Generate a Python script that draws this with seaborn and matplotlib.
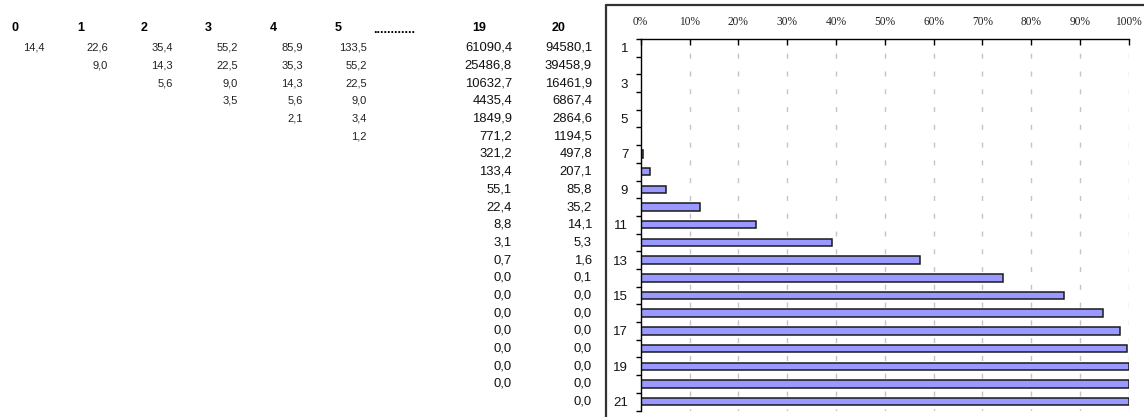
import matplotlib
matplotlib.use("Agg")
import matplotlib.pyplot as plt
import matplotlib.transforms as mtransforms
from matplotlib.lines import Line2D
from matplotlib.ticker import FixedLocator
import pandas as pd
import seaborn as sns

# ---- chart data -------------------------------------------------------
categories = [str(i) for i in range(1, 22)]
shares = [0.0, 0.0, 0.0, 0.0, 0.0, 0.0, 0.5, 1.9, 5.2, 12.1, 23.6, 39.3,
          57.2, 74.2, 86.8, 94.7, 98.3, 99.6, 100.0, 100.0, 100.0]
x_ticks = [0, 10, 20, 30, 40, 50, 60, 70, 80, 90, 100]
x_tick_labels = [f"{t}%" for t in x_ticks]
y_tick_labels = [c if int(c) % 2 == 1 else "" for c in categories]

# ---- table data -------------------------------------------------------
col_headers = ["0", "1", "2", "3", "4", "5", "19", "20"]
col_0 = [14.4]
col_1 = [22.6, 9.0]
col_2 = [35.4, 14.3, 5.6]
col_3 = [55.2, 22.5, 9.0, 3.5]
col_4 = [85.9, 35.3, 14.3, 5.6, 2.1]
col_5 = [133.5, 55.2, 22.5, 9.0, 3.4, 1.2]
col_19 = [61090.4, 25486.8, 10632.7, 4435.4, 1849.9, 771.2, 321.2, 133.4,
          55.1, 22.4, 8.8, 3.1, 0.7, 0.0, 0.0, 0.0, 0.0, 0.0, 0.0, 0.0]
col_20 = [94580.1, 39458.9, 16461.9, 6867.4, 2864.6, 1194.5, 497.8, 207.1,
          85.8, 35.2, 14.1, 5.3, 1.6, 0.1, 0.0, 0.0, 0.0, 0.0, 0.0, 0.0, 0.0]


def fmt(v):
    return f"{v:.1f}".replace(".", ",")


W, H = 1144, 417
sns.set_theme(style="white")
plt.rcParams["font.family"] = ["Liberation Sans", "DejaVu Sans"]

fig = plt.figure(figsize=(W / 100, H / 100), dpi=100)
fig.patch.set_facecolor("white")

# axes box in pixel units
ax_left, ax_right, ax_top, ax_bottom = 640.7, 1128.7, 39.0, 410.5
ax = fig.add_axes([ax_left / W, 1 - ax_bottom / H,
                   (ax_right - ax_left) / W, (ax_bottom - ax_top) / H])

df = pd.DataFrame({"cat": categories, "share": shares})
sns.barplot(data=df, x="share", y="cat", order=categories, orient="h",
            color="#9999FF", saturation=1, width=0.42,
            edgecolor="#1a1a1a", linewidth=1.1, ax=ax)

ax.set_xlim(0, 100)
ax.set_ylim(len(categories) - 0.5, -0.5)
ax.set_xlabel("")
ax.set_ylabel("")

# x axis on top, serif percent labels
ax.xaxis.tick_top()
ax.set_xticks(x_ticks)
ax.set_xticklabels(x_tick_labels, family="Liberation Serif", fontsize=8.3,
                   color="#222222")
ax.tick_params(axis="x", which="major", direction="in", length=4,
               width=1, color="black", pad=8, top=True, bottom=False)

# y axis: labels on odd categories, tick marks between categories
ax.set_yticks(range(len(categories)))
ax.set_yticklabels(y_tick_labels, fontsize=9.5, color="#111111")
ax.tick_params(axis="y", which="major", length=0, pad=9)
ax.yaxis.set_minor_locator(FixedLocator([i - 0.5 for i in range(len(categories) + 1)]))
ax.tick_params(axis="y", which="minor", direction="out", length=3.5,
               width=1, color="black", left=True)

# dashed vertical gridlines
for t in x_ticks[1:]:
    ax.axvline(t, color="#c4c4c4", lw=1.0, linestyle=(2, (3.6, 9.2)), zorder=0)

for side in ["right", "bottom"]:
    ax.spines[side].set_visible(False)
for side in ["left", "top"]:
    ax.spines[side].set_color("black")
    ax.spines[side].set_linewidth(1.0)

# outer frame around the chart area
fx, fy = 606 / W, 1 - 5 / H
fig.add_artist(Line2D([fx, fx], [0, fy], transform=fig.transFigure,
                      color="#333333", lw=1.6))
fig.add_artist(Line2D([fx, 1.0], [fy, fy], transform=fig.transFigure,
                      color="#333333", lw=1.6))

# ---- table to the left ---------------------------------------------
row_tr = mtransforms.blended_transform_factory(fig.transFigure, ax.transData)
header_y = 1 - 28 / H

header_left = [12, 77, 141, 205, 270, 335, 472, 552]
for lbl, xl in zip(col_headers, header_left):
    fig.text(xl / W, header_y, lbl, fontsize=9, fontweight="bold",
             ha="left", va="center", color="black")
fig.text(373 / W, header_y - 0.004, "............", fontsize=9,
         fontweight="bold", ha="left", va="center", color="black")

small_cols = [col_0, col_1, col_2, col_3, col_4, col_5]
small_right = [45, 108, 173, 238, 303, 367]
for col, xr in zip(small_cols, small_right):
    for i, v in enumerate(col):
        fig.text(xr / W, i, fmt(v), transform=row_tr, fontsize=8,
                 ha="right", va="center", color="#222222")

for col, xr in zip([col_19, col_20], [512, 592]):
    for i, v in enumerate(col):
        fig.text(xr / W, i, fmt(v), transform=row_tr, fontsize=9.4,
                 ha="right", va="center", color="#111111")

fig.savefig("out.png", dpi=100)
